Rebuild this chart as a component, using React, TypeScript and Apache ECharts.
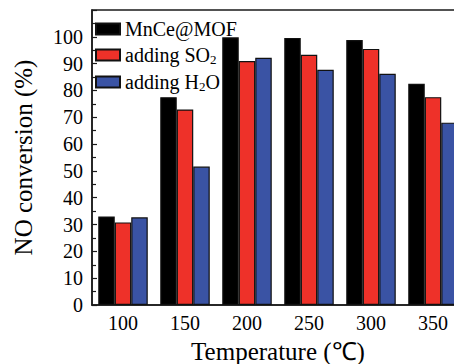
import React, { useEffect, useRef } from "react";
import * as echarts from "echarts";

const categories = ["100", "150", "200", "250", "300", "350"];
const seriesNames = ["MnCe@MOF", "adding SO2", "adding H2O"];
const mnceMof = [33.0, 77.5, 99.8, 99.6, 98.8, 82.5];
const addingSO2 = [30.8, 72.9, 91.0, 93.3, 95.5, 77.5];
const addingH2O = [32.7, 51.6, 92.2, 87.7, 86.2, 68.0];
const colors = ["#000000", "#EE3129", "#3A53A4"];

const FONT = "'Liberation Serif', 'Times New Roman', Times, serif";

export default function App() {
  const ref = useRef<HTMLDivElement>(null);
  useEffect(() => {
    if (!ref.current) return;
    const chart = echarts.init(ref.current, undefined, { renderer: "svg" });
    const values = [mnceMof, addingSO2, addingH2O];
    const legendFmt: Record<string, string> = {
      "MnCe@MOF": "{t|MnCe@MOF}",
      "adding SO2": "{t|adding SO}{s|2}",
      "adding H2O": "{t|adding H}{s|2}{t|O}",
    };
    chart.setOption({
      animation: false,
      backgroundColor: "#ffffff",
      textStyle: { fontFamily: FONT, color: "#000" },
      grid: {
        left: 92,
        top: 10,
        width: 372,
        height: 295,
        outerBoundsMode: "none",
        containLabel: false,
        show: true,
        borderColor: "#1a1a1a",
        borderWidth: 1.5,
        backgroundColor: "transparent",
      },
      legend: {
        orient: "vertical",
        left: 95,
        top: 19,
        padding: 0,
        itemWidth: 24,
        itemHeight: 11,
        itemGap: 6,
        icon: "rect",
        data: seriesNames,
        formatter: (name: string) => legendFmt[name] || name,
        textStyle: {
          fontFamily: FONT,
          color: "#000",
          fontSize: 20,
          rich: {
            t: { fontFamily: FONT, fontSize: 20, color: "#000", lineHeight: 22, verticalAlign: "middle" },
            s: { fontFamily: FONT, fontSize: 13, color: "#000", lineHeight: 13, verticalAlign: "bottom" },
          },
        },
      },
      xAxis: {
        type: "category",
        data: categories,
        name: "Temperature (℃)",
        nameLocation: "middle",
        nameGap: 34,
        nameTextStyle: { fontFamily: FONT, fontSize: 25, color: "#000" },
        axisLine: { show: true, lineStyle: { color: "#1a1a1a", width: 1.5 } },
        axisTick: { show: false },
        axisLabel: { fontFamily: FONT, fontSize: 20, color: "#000", margin: 8 },
      },
      yAxis: {
        type: "value",
        min: 0,
        max: 110,
        interval: 10,
        name: "NO conversion (%)",
        nameLocation: "middle",
        nameGap: 56,
        nameTextStyle: { fontFamily: FONT, fontSize: 25, color: "#000" },
        axisLine: { show: true, lineStyle: { color: "#1a1a1a", width: 1.5 } },
        axisTick: { show: true, inside: true, length: 5, lineStyle: { color: "#1a1a1a", width: 1.2 } },
        minorTick: { show: true, splitNumber: 2, length: 4, lineStyle: { color: "#1a1a1a", width: 1.2 } },
        splitLine: { show: false },
        axisLabel: {
          fontFamily: FONT,
          fontSize: 20,
          color: "#000",
          margin: 9,
          formatter: (v: number) => (v > 100 ? "" : String(v)),
        },
      },
      series: seriesNames.map((name, i) => ({
        name,
        type: "bar",
        data: values[i],
        barWidth: 16.5,
        barGap: "0%",
        itemStyle: { color: colors[i], borderColor: "#111", borderWidth: 1.2 },
      })),
    });
    return () => chart.dispose();
  }, []);
  return (
    <div style={{ position: "fixed", left: 0, top: 0, width: 454, height: 364, overflow: "hidden", background: "#fff" }}>
      <div ref={ref} style={{ width: 480, height: 364 }} />
    </div>
  );
}
